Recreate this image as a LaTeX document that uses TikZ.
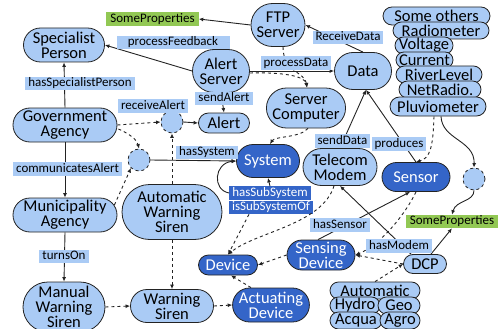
\documentclass[tikz,border=0pt]{standalone}
\usepackage{fontspec}
\setmainfont{Carlito}
\usetikzlibrary{shapes.misc,arrows.meta,calc}
\definecolor{lblue}{RGB}{170,203,245}
\definecolor{dblue}{RGB}{52,101,200}
\definecolor{pgreen}{RGB}{146,200,84}
\definecolor{edgec}{RGB}{35,35,35}
\tikzset{
 nd/.style={rounded rectangle, draw=edgec, line width=0.8pt, fill=lblue, font=\fontsize{16.5}{15}\selectfont, align=center, inner sep=0pt},
 dk/.style={nd, fill=dblue, text=white},
 lab/.style={fill=lblue, font=\fontsize{13}{13}\selectfont, inner xsep=3pt, inner ysep=0.8pt, text height=9pt, text depth=2.6pt},
 dlab/.style={lab, fill=dblue, text=white},
 glab/.style={lab, fill=pgreen, inner xsep=4pt},
 circ/.style={circle, draw=edgec, dashed, fill=lblue, minimum size=22pt, inner sep=0pt, line width=0.8pt},
 ar/.style={-{Latex[length=4.5pt,width=4pt]}, line width=0.9pt, draw=edgec},
 dar/.style={ar, dashed},
}
\begin{document}
\begin{tikzpicture}[x=1pt,y=-1pt]
\useasboundingbox (0,0) rectangle (498,329);
% main nodes
\node[glab] (SP1) at (152.5,19) {SomeProperties};
\node[nd, minimum width=81pt, minimum height=34pt] (SpecP) at (64,45) {Specialist\\Person};
\node[nd, minimum width=57pt, minimum height=43pt] (AS) at (221,71) {Alert\\Server};
\node[nd, minimum width=54pt, minimum height=43pt] (FTP) at (278,25) {FTP\\Server};
\node[nd, minimum width=57pt, minimum height=37pt] (Data) at (363,71) {Data};
\node[nd, minimum width=78pt, minimum height=40pt] (SC) at (306,108) {Server\\Computer};
\node[nd, minimum width=51pt, minimum height=20pt] (Alert) at (224,123) {Alert};
\node[nd, minimum width=104pt, minimum height=34pt] (Gov) at (65,125) {Government\\Agency};
\node[circ] (C1) at (172,122) {};
\node[circ] (C2) at (139,160) {};
\node[nd, minimum width=104pt, minimum height=34pt] (Muni) at (65,215) {Municipality\\Agency};
\node[nd, minimum width=100pt, minimum height=55pt] (AWS) at (172,212) {Automatic\\Warning\\Siren};
\node[dk, minimum width=63pt, minimum height=33pt] (Sys) at (268,161) {System};
\node[nd, minimum width=74pt, minimum height=37pt] (TM) at (340,167) {Telecom\\Modem};
\node[dk, minimum width=68pt, minimum height=29pt] (Sensor) at (416,177) {Sensor};
\node[circ] (C3) at (474,179) {};
\node[glab] (SP2) at (452,221.5) {SomeProperties};
\node[nd, minimum width=43pt, minimum height=19pt] (DCP) at (425,264) {DCP};
\node[dk, minimum width=68pt, minimum height=30pt] (SD) at (321,255) {Sensing\\Device};
\node[dk, minimum width=59pt, minimum height=20pt] (Dev) at (228,265) {Device};
\node[dk, minimum width=73pt, minimum height=34pt] (AD) at (271,305) {Actuating\\Device};
\node[nd, minimum width=83pt, minimum height=33pt] (WS) at (172,306) {Warning\\Siren};
\node[nd, minimum width=82pt, minimum height=50pt] (MWS) at (64,307) {Manual\\Warning\\Siren};
% stacked groups
\node[nd, minimum width=107pt, minimum height=18pt] (SO) at (436.5,16) {Some others};
\node[nd, minimum width=96pt, minimum height=17pt] (Rad) at (441,30.5) {Radiometer};
\node[nd, minimum width=56pt, minimum height=17pt] (Volt) at (424,45.5) {Voltage};
\node[nd, minimum width=57pt, minimum height=16pt] (Curr) at (424.5,60) {Current};
\node[nd, minimum width=86pt, minimum height=17pt] (RL) at (439,74.5) {RiverLevel};
\node[nd, minimum width=82pt, minimum height=17pt] (NR) at (440,89.5) {NetRadio.};
\node[nd, minimum width=96pt, minimum height=19pt] (Pluv) at (438,106.5) {Pluviometer};
\node[nd, minimum width=90pt, minimum height=17pt] (Auto) at (375,290.5) {Automatic};
\node[nd, minimum width=50pt, minimum height=17pt] (Hydro) at (355,305.5) {Hydro};
\node[nd, minimum width=42pt, minimum height=17pt] (Geo) at (399,305.5) {Geo};
\node[nd, minimum width=52pt, minimum height=17pt] (Acqua) at (356,320.5) {Acqua};
\node[nd, minimum width=40pt, minimum height=17pt] (Agro) at (400,320.5) {Agro};
% sub system labels
\node[dlab] (hss) at (270,193) {hasSubSystem};
\node[dlab] (isso) at (271,207.5) {isSubSystemOf};
% connectors
\draw[ar] (FTP.west) -- (SP1.east);
\draw[ar] (AS.west) -- (SpecP.east);
\draw[ar] (Data.north) -- (FTP.east);
\draw[ar] (AS.east) -- (Data.west);
\draw[dar] ($(FTP.south)+(5,0)$) .. controls (283,72) and (305,72) .. ($(SC.north)+(1,0)$);
\draw[dar] ($(AS.east)+(0,2)$) .. controls (282,72) and (305,76) .. ($(SC.north)+(1,0)$);
\draw[dar] ($(SC.south)+(2,0)$) .. controls (300,138) and (275,136) .. ($(Sys.north)+(2,0)$);
\draw[ar] (AS.south) -- (Alert.north);
\draw[ar] (Gov.north) -- (SpecP.south);
\draw[ar] (Gov.south) -- (Muni.north);
\draw[ar] (Muni.south) -- (MWS.north);
\draw[dar] (Gov.east) -- (C1.west);
\draw[ar] (C1.east) -- (Alert.west);
\draw[dar] ($(Gov.east)+(1,4)$) .. controls (130,134) and (137,140) .. (C2.north);
\draw[dar] ($(Muni.east)+(-3,-10)$) -- (C2.south west);
\draw[ar] (C2.east) -- (Sys.west);
\draw[dar] (AWS.north) -- (C1.south);
\draw[dar] (AWS.south) -- (WS.north);
\draw[dar] (MWS.east) -- (WS.west);
\draw[dar] (WS.east) -- (AD.west);
\draw[dar] ($(AD.north)+(-20,0)$) -- ($(Dev.south)+(3,0)$);
\draw[dar] (SD.west) -- (Dev.east);
\draw[dar] ($(isso.south)+(-22,0)$) -- (Dev.north);
\draw[ar] (hss.north) -- (Sys.south);
\draw[ar] (hss.west) .. controls (212,190) and (214,163) .. (Sys.west);
\draw[ar] (TM.north) -- ($(Data.south)+(3,0)$);
\draw[ar] (Sensor.north) -- ($(Data.south)+(3,0)$);
\draw[dar] ($(Pluv.south)+(-4,0)$) .. controls (433,148) and (430,158) .. (Sensor.north);
\draw[ar] ($(Pluv.south)+(3,0)$) .. controls (442,140) and (475,140) .. (C3.north);
\draw[ar] (C3.south) .. controls (474,202) and (456,200) .. (SP2.north);
\draw[ar] ($(DCP.north)+(6,0)$) -- (SP2.south);
\draw[ar] ($(DCP.north)+(-14,0)$) -- (TM.south);
\draw[ar] ($(SD.north)+(-3,0)$) -- ($(Sensor.south)+(-6,0)$);
\draw[dar] ($(TM.south)+(-6,0)$) .. controls (322,225) and (255,232) .. (Dev.north);
\draw[dar] (Sensor.south) .. controls (405,215) and (380,245) .. (SD.east);
\draw[dar] (DCP.west) -- (SD.east);
\draw[dar] (Auto.north) -- (DCP.west);
% edge labels
\node[lab, minimum width=113pt] (lpf) at (173,42.5) {processFeedback};
\node[lab] (lhsp) at (80,83.5) {hasSpecialistPerson};
\node[lab] (lca) at (67.5,169) {communicatesAlert};
\node[lab] (lra) at (153,106) {receiveAlert};
\node[lab] (lsa) at (224,98.5) {sendAlert};
\node[lab] (lhs) at (207,152.5) {hasSystem};
\node[lab] (lpd) at (296,63) {processData};
\node[lab] (lrd) at (348,37.5) {ReceiveData};
\node[lab] (lsd) at (342.5,141) {sendData};
\node[lab] (lpr) at (399,144) {produces};
\node[lab] (lhse) at (340,225) {hasSensor};
\node[lab] (lhm) at (399,246) {hasModem};
\node[lab] (lto) at (64,256.5) {turnsOn};
\end{tikzpicture}
\end{document}
